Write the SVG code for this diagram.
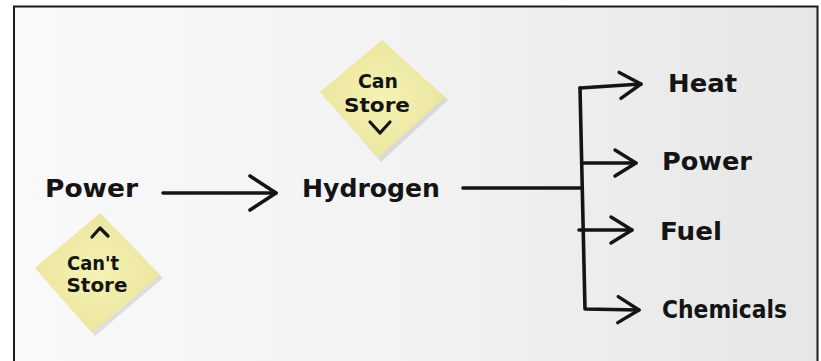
<svg xmlns="http://www.w3.org/2000/svg" width="821" height="361" viewBox="0 0 821 361">
<style>
.t{font-family:"DejaVu Sans","Liberation Sans",sans-serif;font-weight:bold;fill:#141414;}
.lbl{font-size:24px;}
.nt{font-size:20px;text-anchor:middle;}
.ln{fill:none;stroke:#141414;stroke-width:3.6;stroke-linecap:round;stroke-linejoin:round;}
.note{fill:url(#ng);}
.sh{fill:#000;opacity:0.10;}
.mk{fill:none;stroke:#141414;stroke-width:3.2;stroke-linecap:round;stroke-linejoin:round;}
</style>
<defs>
<linearGradient id="bg" x1="0" y1="0" x2="1" y2="0">
<stop offset="0" stop-color="#f9f9f9"/>
<stop offset="0.5" stop-color="#f2f2f2"/>
<stop offset="1" stop-color="#e6e6e6"/>
</linearGradient>
<radialGradient id="ng" cx="0.5" cy="0.5" r="0.6">
<stop offset="0" stop-color="#f5f2b4"/>
<stop offset="1" stop-color="#e9e49a"/>
</radialGradient>
<marker id="hs" viewBox="-26 -16 30 32" refX="0" refY="0" markerWidth="30" markerHeight="32" markerUnits="userSpaceOnUse" orient="auto">
<path d="M-21,-13 L0,0 L-21,13" fill="none" stroke="#141414" stroke-width="3.4" stroke-linecap="round" stroke-linejoin="round"/>
</marker>
<marker id="hl" viewBox="-30 -20 34 40" refX="0" refY="0" markerWidth="34" markerHeight="40" markerUnits="userSpaceOnUse" orient="auto">
<path d="M-26,-17 L0,0 L-26,17" fill="none" stroke="#141414" stroke-width="3.6" stroke-linecap="round" stroke-linejoin="round"/>
</marker>
</defs>
<rect x="0" y="0" width="821" height="361" fill="#ffffff"/>
<rect x="14" y="6.5" width="803.5" height="370" fill="url(#bg)" stroke="#1a1a1a" stroke-width="2"/>

<g id="note-can-store">
<polygon class="sh" points="384,43 448,100 381,162 323,95"/>
<polygon class="note" points="382,40 445,97 378,158 320,92"/>
<text class="t nt" x="378" y="88" textLength="40" lengthAdjust="spacingAndGlyphs">Can</text>
<text class="t nt" x="377" y="112" textLength="66" lengthAdjust="spacingAndGlyphs">Store</text>
<path class="mk" d="M370,122 L380,133 L390,122"/>
</g>

<g id="note-cant-store">
<polygon class="sh" points="103,216 163,278 95,336 38,271"/>
<polygon class="note" points="100,213 160,275 92,333 35,268"/>
<path class="mk" d="M92,237 L100,228 L108,236"/>
<text class="t nt" x="93" y="270" textLength="52" lengthAdjust="spacingAndGlyphs">Can't</text>
<text class="t nt" x="97" y="292" textLength="61" lengthAdjust="spacingAndGlyphs">Store</text>
</g>

<g id="node-power-in">
<text class="t lbl" x="45" y="197" textLength="93" lengthAdjust="spacingAndGlyphs">Power</text>
</g>
<g id="node-hydrogen">
<text class="t lbl" x="302" y="197" textLength="138" lengthAdjust="spacingAndGlyphs">Hydrogen</text>
</g>
<g id="node-heat">
<text class="t lbl" x="668" y="92" textLength="69" lengthAdjust="spacingAndGlyphs">Heat</text>
</g>
<g id="node-power-out">
<text class="t lbl" x="662" y="170" textLength="90" lengthAdjust="spacingAndGlyphs">Power</text>
</g>
<g id="node-fuel">
<text class="t lbl" x="660" y="240" textLength="62" lengthAdjust="spacingAndGlyphs">Fuel</text>
</g>
<g id="node-chemicals">
<text class="t lbl" x="662" y="318" textLength="125" lengthAdjust="spacingAndGlyphs">Chemicals</text>
</g>

<g id="connectors">
<path class="ln" d="M163,193 L276,193" marker-end="url(#hl)"/>
<path class="ln" d="M463,188 L582,188"/>
<path class="ln" d="M580,88 L585,309 L639,310" marker-end="url(#hs)"/>
<path class="ln" d="M580,88 L641,84" marker-end="url(#hs)"/>
<path class="ln" d="M582,163 L636,163" marker-end="url(#hs)"/>
<path class="ln" d="M579,230 L632,230" marker-end="url(#hs)"/>
</g>
</svg>
